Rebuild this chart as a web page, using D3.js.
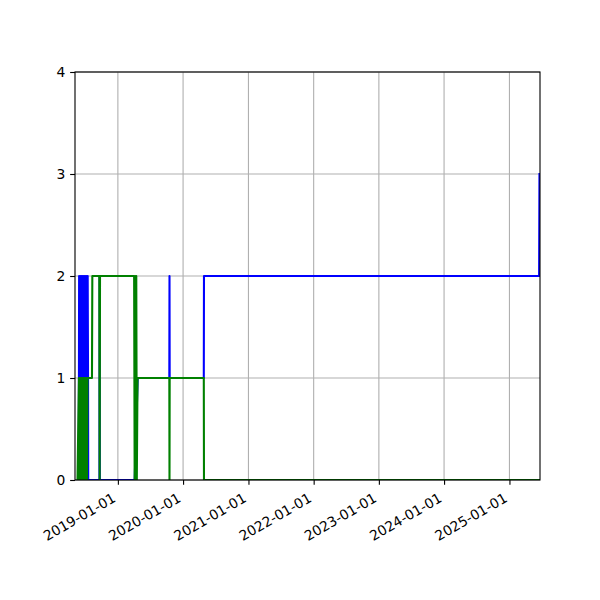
<!DOCTYPE html>
<html>
<head>
<meta charset="utf-8">
<script src="https://cdn.jsdelivr.net/npm/d3@7"></script>
<style>
  html, body { margin: 0; padding: 0; background: #fff; }
  svg { display: block; font-family: "DejaVu Sans", sans-serif; }
</style>
</head>
<body>
<svg id="chart" width="600" height="600"></svg>
<script>
// ---- data ----
const blueDates = [
  "2018-05-22","2018-05-27","2018-05-29","2018-06-01","2018-06-04","2018-06-07","2018-06-10",
  "2018-06-13","2018-06-16","2018-06-19","2018-06-22","2018-06-25","2018-06-28","2018-07-01",
  "2018-07-04","2018-07-07","2018-07-10","2018-07-13","2018-07-16","2018-07-18","2018-07-19",
  "2018-09-20","2018-09-21","2018-09-22","2019-04-05","2019-04-22","2019-10-16","2019-10-17",
  "2019-10-18","2020-04-26","2020-04-27","2025-06-16","2025-06-18"
];
const blueValues = [
  0,0,2,1,2,1,2,
  1,2,1,2,1,2,1,
  2,1,2,1,2,1,0,
  0,2,0,0,1,1,2,
  1,1,2,2,3
];
const greenDates = [
  "2018-05-20","2018-05-28","2018-05-31","2018-06-03","2018-06-06","2018-06-09","2018-06-12",
  "2018-06-15","2018-06-18","2018-06-21","2018-06-24","2018-06-27","2018-06-30","2018-07-03",
  "2018-07-06","2018-07-09","2018-07-12","2018-07-15","2018-07-18","2018-08-09","2018-08-11",
  "2018-09-19","2018-09-21","2018-09-23","2019-04-02","2019-04-05","2019-04-08","2019-04-11",
  "2019-04-14","2019-04-17","2019-04-21","2019-10-16","2019-10-17","2019-10-18","2020-04-26",
  "2020-04-27","2025-06-18"
];
const greenValues = [
  0,1,0,1,0,1,0,
  1,0,1,0,1,0,1,
  0,1,0,1,1,1,2,
  2,0,2,2,0,2,0,
  2,0,1,1,0,1,1,
  0,0
];
const yTicks = [0, 1, 2, 3, 4];
const xTickLabels = ["2019-01-01","2020-01-01","2021-01-01","2022-01-01","2023-01-01","2024-01-01","2025-01-01"];
const xDomain = ["2018-05-06","2025-06-21"];

// ---- layout ----
const m = { left: 75, right: 540, top: 72, bottom: 480 };
const PT = 100 / 72;
const svg = d3.select("#chart");
const parse = d3.utcParse("%Y-%m-%d");

const x = d3.scaleUtc().domain(xDomain.map(parse)).range([m.left, m.right]);
const y = d3.scaleLinear().domain([0, 4]).range([m.bottom, m.top]);

const clipId = "plotclip";
svg.append("defs").append("clipPath").attr("id", clipId)
  .append("rect").attr("x", m.left).attr("y", m.top)
  .attr("width", m.right - m.left).attr("height", m.bottom - m.top);

// grid
const grid = svg.append("g");
xTickLabels.forEach(t => {
  const px = x(parse(t));
  grid.append("line").attr("x1", px).attr("x2", px).attr("y1", m.top).attr("y2", m.bottom)
    .attr("stroke", "#b0b0b0").attr("stroke-width", 0.8 * PT);
});
yTicks.forEach(t => {
  grid.append("line").attr("x1", m.left).attr("x2", m.right).attr("y1", y(t)).attr("y2", y(t))
    .attr("stroke", "#b0b0b0").attr("stroke-width", 0.8 * PT);
});

// lines
const line = d3.line().x(d => x(d[0])).y(d => y(d[1]));
const blue = blueDates.map((d, i) => [parse(d), blueValues[i]]);
const green = greenDates.map((d, i) => [parse(d), greenValues[i]]);
const plot = svg.append("g").attr("clip-path", `url(#${clipId})`);
plot.append("path").datum(blue).attr("d", line).attr("fill", "none")
  .attr("stroke", "#0000ff").attr("stroke-width", 1.5 * PT).attr("stroke-linejoin", "round").attr("stroke-linecap", "square");
plot.append("path").datum(green).attr("d", line).attr("fill", "none")
  .attr("stroke", "#008000").attr("stroke-width", 1.5 * PT).attr("stroke-linejoin", "round").attr("stroke-linecap", "square");

// spines
svg.append("rect").attr("x", m.left).attr("y", m.top)
  .attr("width", m.right - m.left).attr("height", m.bottom - m.top)
  .attr("fill", "none").attr("stroke", "#000").attr("stroke-width", 0.8 * PT);

// y axis
const yAxis = d3.axisLeft(y).tickValues(yTicks).tickSize(3.5 * PT).tickPadding(3.5 * PT).tickFormat(d3.format("d"));
const gy = svg.append("g").attr("transform", `translate(${m.left},0)`).call(yAxis);
gy.select(".domain").remove();
gy.selectAll(".tick line").attr("stroke", "#000").attr("stroke-width", 0.8 * PT);
gy.selectAll(".tick text").attr("font-size", 10 * PT).attr("fill", "#000")
  .attr("font-family", "DejaVu Sans, sans-serif");

// x axis
const xAxis = d3.axisBottom(x).tickValues(xTickLabels.map(parse)).tickSize(3.5 * PT).tickFormat(d3.utcFormat("%Y-%m-%d"));
const gx = svg.append("g").attr("transform", `translate(0,${m.bottom})`).call(xAxis);
gx.select(".domain").remove();
gx.selectAll(".tick line").attr("stroke", "#000").attr("stroke-width", 0.8 * PT);
gx.selectAll(".tick text")
  .attr("font-size", 10 * PT).attr("fill", "#000").attr("font-family", "DejaVu Sans, sans-serif")
  .attr("text-anchor", "end").attr("dy", null).attr("y", null)
  .attr("transform", "translate(-1.6,20.9) rotate(-30)");
</script>
</body>
</html>
